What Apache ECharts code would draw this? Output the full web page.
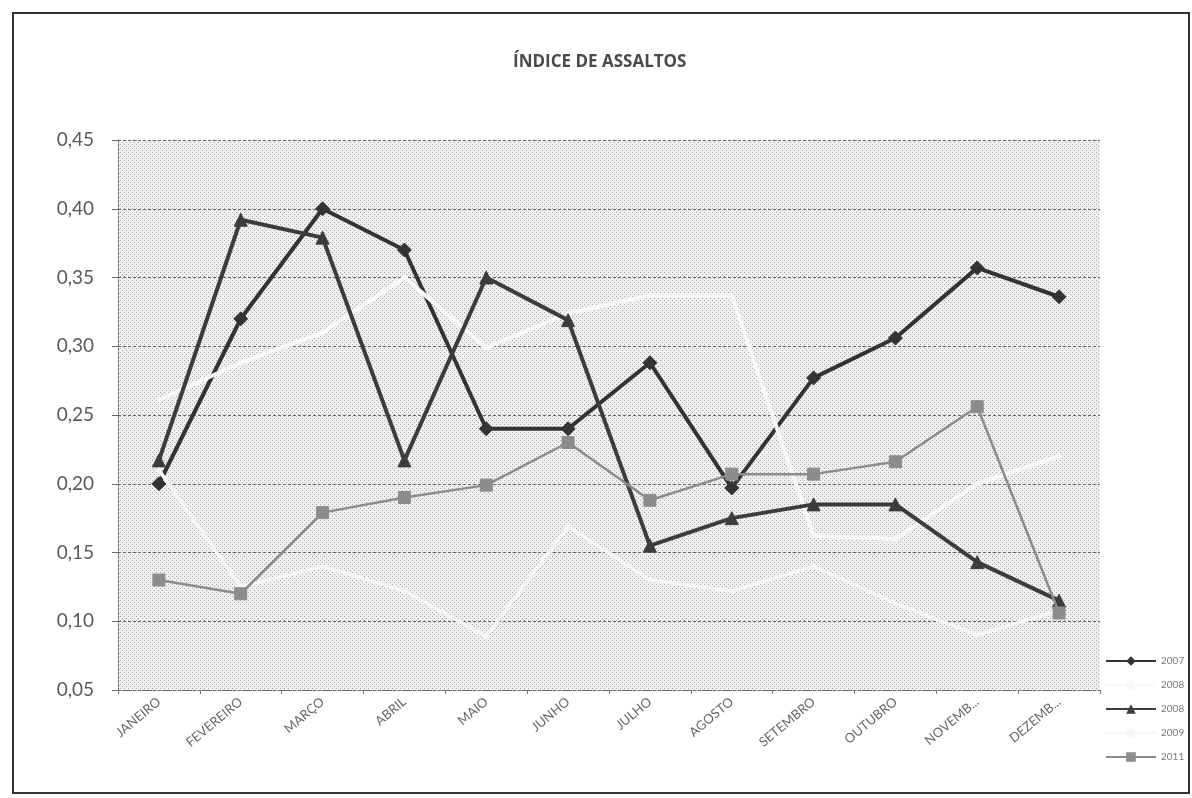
<!DOCTYPE html>
<html>
<head>
<meta charset="utf-8">
<script src="https://cdn.jsdelivr.net/npm/echarts@6/dist/echarts.min.js"></script>
<style>
html,body{margin:0;padding:0;background:#fff;}
#chart{width:1192px;height:798px;}
</style>
</head>
<body>
<div id="chart"></div>
<script>
const categories = ['JANEIRO','FEVEREIRO','MARÇO','ABRIL','MAIO','JUNHO','JULHO','AGOSTO','SETEMBRO','OUTUBRO','NOVEMB...','DEZEMB...'];
const legendLabels = ['2007','2008','2008','2009','2011'];
const s2007  = [0.200,0.320,0.400,0.370,0.240,0.240,0.288,0.197,0.277,0.306,0.357,0.336];
const s2008a = [0.261,0.288,0.310,0.350,0.299,0.324,0.337,0.337,0.162,0.160,0.200,0.220];
const s2008b = [0.217,0.392,0.379,0.217,0.350,0.319,0.155,0.175,0.185,0.185,0.143,0.115];
const s2009  = [0.210,0.125,0.140,0.122,0.089,0.169,0.130,0.122,0.140,0.113,0.090,0.108];
const s2011  = [0.130,0.120,0.179,0.190,0.199,0.230,0.188,0.207,0.207,0.216,0.256,0.106];
const yTicks = { min: 0.05, max: 0.45, interval: 0.05 };

// dotted background pattern
const pc = document.createElement('canvas');
pc.width = 4; pc.height = 4;
const pctx = pc.getContext('2d');
pctx.fillStyle = '#f0f0f0'; pctx.fillRect(0,0,4,4);
pctx.fillStyle = '#a8a8a8';
pctx.fillRect(0,0,1,1); pctx.fillRect(2,2,1,1);

const chart = echarts.init(document.getElementById('chart'), null, {renderer:'canvas'});
const FONT = 'Lato, "Open Sans", sans-serif';
const names = legendLabels.map((l,i) => l + '#' + i);

function lineSeries(i, data, color, width, symbol, size, z) {
  return {
    name: names[i], type: 'line', data: data, z: z,
    symbol: symbol, symbolSize: size,
    lineStyle: { color: color, width: width },
    itemStyle: { color: color, borderColor: color },
    emphasis: { disabled: true }, animation: false
  };
}

chart.setOption({
  animation: false,
  title: {
    text: 'ÍNDICE DE ASSALTOS', left: 508, top: 49,
    textStyle: { fontFamily: '"Open Sans", Lato, sans-serif', fontSize: 17, fontWeight: 'bold', color: '#4a4a4a' }
  },
  legend: {
    orient: 'vertical', left: 1100, top: 651,
    itemWidth: 50, itemHeight: 12, itemGap: 14,
    data: names,
    formatter: n => n.split('#')[0],
    textStyle: { fontFamily: FONT, fontSize: 10, color: '#777' },
    lineStyle: { width: 2 },
    selectedMode: false
  },
  grid: {
    left: 118, right: 92, top: 140, bottom: 108,
    show: true, borderWidth: 0,
    backgroundColor: { image: pc, repeat: 'repeat' }
  },
  xAxis: {
    type: 'category', data: categories, boundaryGap: true,
    axisLine: { lineStyle: { color: '#666', width: 1, type: [2,2] } },
    axisTick: { show: true, length: 4, lineStyle: { color: '#777' } },
    axisLabel: { rotate: 40, fontFamily: FONT, fontSize: 13, color: '#666', margin: 10, interval: 0 },
    splitLine: { show: false }
  },
  yAxis: {
    type: 'value', min: yTicks.min, max: yTicks.max, interval: yTicks.interval,
    axisLine: { show: true, lineStyle: { color: '#666', width: 1, type: [2,2] } },
    axisTick: { show: true, length: 6, lineStyle: { color: '#666' } },
    axisLabel: { fontFamily: FONT, fontSize: 19, color: '#5a5a5a', margin: 24,
      formatter: v => v.toFixed(2).replace('.', ',') },
    splitLine: { show: true, lineStyle: { color: '#666', width: 1, type: [3,2] } }
  },
  graphic: [{
    type: 'rect', shape: { x: 13, y: 13, width: 1176, height: 780 },
    style: { fill: 'none', stroke: '#333', lineWidth: 2 }, z: 100, silent: true
  }],
  series: [
    lineSeries(0, s2007, '#333333', 4, 'diamond', 14, 2),
    lineSeries(1, s2008a, '#f8f8f8', 4, 'circle', 4, 3),
    lineSeries(2, s2008b, '#3c3c3c', 4, 'triangle', 13, 4),
    lineSeries(3, s2009, '#f6f6f6', 3.5, 'circle', 4, 5),
    lineSeries(4, s2011, '#8c8c8c', 2.5, 'rect', 12, 6)
  ]
});
</script>
</body>
</html>
